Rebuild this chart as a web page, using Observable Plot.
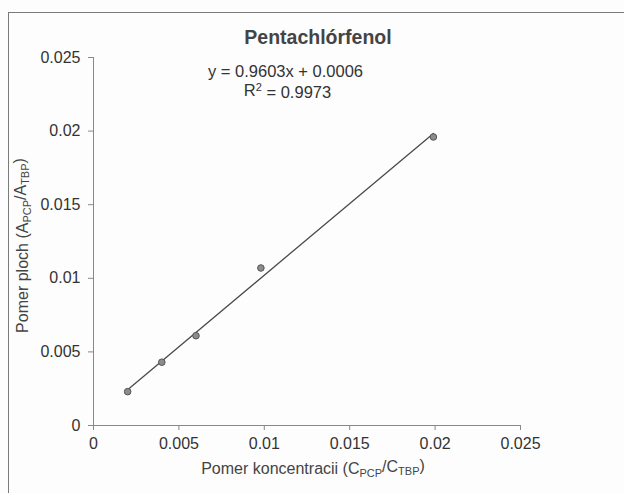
<!DOCTYPE html>
<html>
<head>
<meta charset="utf-8">
<script src="https://cdn.jsdelivr.net/npm/d3@7"></script>
<script src="https://cdn.jsdelivr.net/npm/@observablehq/plot@0.6"></script>
<style>
  html, body { margin: 0; padding: 0; background: #fdfdfd; }
  #wrap { position: relative; width: 624px; height: 493px; overflow: hidden; }
  #border { position: absolute; left: 8px; top: 12px; right: -10px; bottom: -10px;
            border-left: 1px solid #7a7a7a; border-top: 1px solid #7a7a7a; }
  #chart { position: absolute; left: 0; top: 0; }
</style>
</head>
<body>
<div id="wrap"><div id="border"></div><div id="chart"></div></div>
<script>
// Data
const concRatio = [0.002, 0.004, 0.006, 0.0098, 0.0199];   // C_PCP / C_TBP
const areaRatio = [0.0023, 0.0043, 0.0061, 0.0107, 0.0196]; // A_PCP / A_TBP
const xTicks = [0, 0.005, 0.01, 0.015, 0.02, 0.025];
const yTicks = [0, 0.005, 0.01, 0.015, 0.02, 0.025];
const titleText = "Pentachlórfenol";
const eqText = "y = 0.9603x + 0.0006";
const r2Text = "R2 = 0.9973";
const xLabel = "Pomer koncentracii (CPCP/CTBP)";
const yLabel = "Pomer ploch (APCP/ATBP)";

const data = concRatio.map((x, i) => ({x, y: areaRatio[i]}));
const fmt = d3.format("~g");
const font = "'Liberation Sans', Arial, sans-serif";
const centered = {textAnchor: "middle", lineAnchor: "middle"};

const chart = Plot.plot({
  width: 624,
  height: 493,
  marginLeft: 93,
  marginRight: 104,
  marginTop: 57,
  marginBottom: 68,
  style: {fontFamily: font, fontSize: "16px", color: "#333", background: "transparent"},
  x: {domain: [0, 0.025]},
  y: {domain: [0, 0.025]},
  marks: [
    Plot.ruleY([0], {stroke: "#888", strokeWidth: 1}),
    Plot.ruleX([0], {stroke: "#888", strokeWidth: 1}),
    Plot.axisX({ticks: xTicks, tickFormat: fmt, tickSize: 5, tickPadding: 7, stroke: "#888", label: null, fontSize: 16}),
    Plot.axisY({ticks: yTicks, tickFormat: fmt, tickSize: 5, tickPadding: 8, stroke: "#888", label: null, fontSize: 16}),
    Plot.linearRegressionY(data, {x: "x", y: "y", ci: 0, stroke: "#4a4a4a", strokeWidth: 1.3}),
    Plot.dot(data, {x: "x", y: "y", r: 3.3, fill: "#8c8c8c", stroke: "#555", strokeWidth: 1}),
    Plot.text([titleText], {...centered, frameAnchor: "top", dx: 11, dy: -20, fontWeight: "bold", fontSize: 19.5, fill: "#444"}),
    Plot.text([eqText], {...centered, frameAnchor: "top", dx: -21.5, dy: 14.5, fontSize: 16.5, fill: "#333"}),
    Plot.text([r2Text], {...centered, frameAnchor: "top", dx: -19.5, dy: 33, fontSize: 16.5, fill: "#333"}),
    Plot.text([xLabel], {...centered, frameAnchor: "bottom", dx: 6, dy: 43, fontSize: 16, fill: "#444"}),
    Plot.text([yLabel], {...centered, frameAnchor: "left", dx: -71, dy: 4, rotate: -90, fontSize: 16, fill: "#444"})
  ]
});
document.getElementById("chart").appendChild(chart);

// Rich text: subscripts and superscripts
function rich(str, parts) {
  d3.select(chart).selectAll("text").filter(function() { return this.textContent === str; })
    .each(function() {
      const t = d3.select(this);
      t.text(null);
      parts.forEach(([s, kind]) => {
        const sp = t.append("tspan").text(s);
        if (kind === "sub") sp.attr("dy", "0.3em").attr("font-size", "11px");
        if (kind === "sup") sp.attr("dy", "-0.45em").attr("font-size", "11px");
        if (kind === "subEnd") sp.attr("dy", "-0.3em");
        if (kind === "supEnd") sp.attr("dy", "0.45em");
      });
    });
}
rich(r2Text, [["R", null], ["2", "sup"], [" = 0.9973", "supEnd"]]);
rich(xLabel, [["Pomer koncentracii (C", null], ["PCP", "sub"], ["/C", "subEnd"], ["TBP", "sub"], [")", "subEnd"]]);
rich(yLabel, [["Pomer ploch (A", null], ["PCP", "sub"], ["/A", "subEnd"], ["TBP", "sub"], [")", "subEnd"]]);
</script>
</body>
</html>
